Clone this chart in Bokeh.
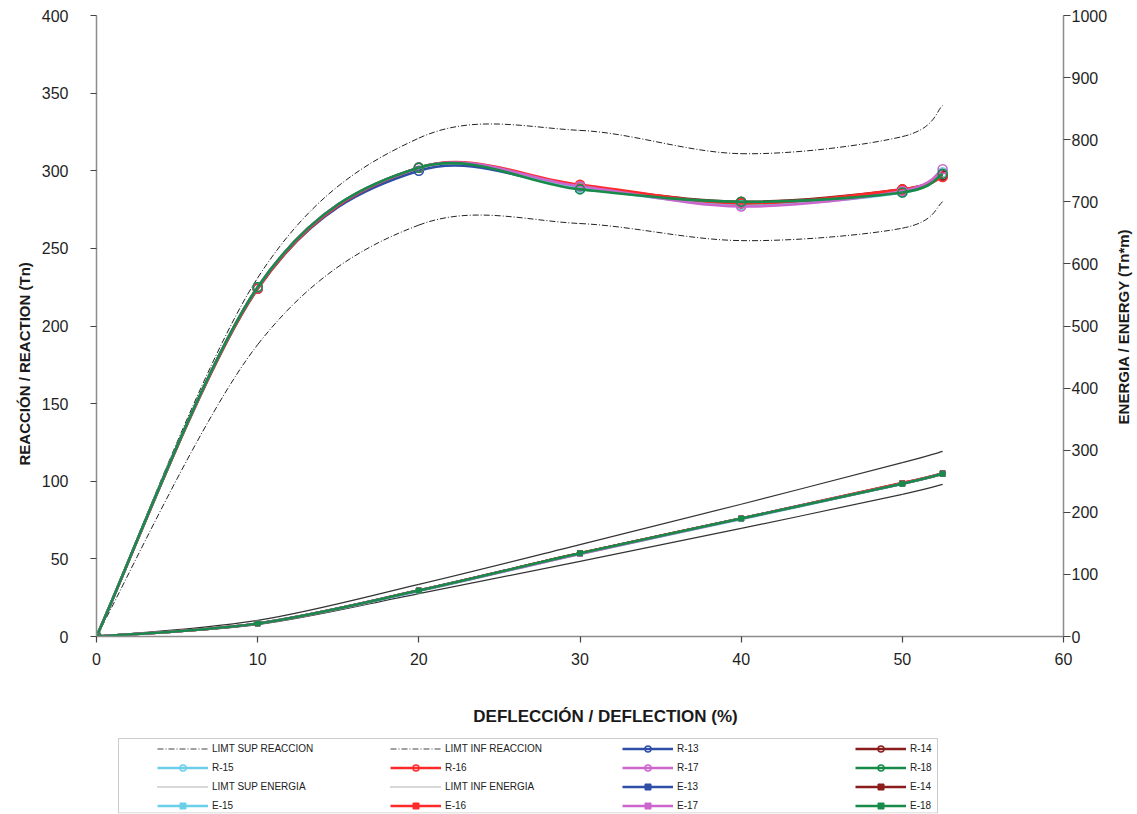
import math
from bokeh.plotting import figure
from bokeh.models import (Range1d, LinearAxis, Legend, LegendItem, Title, Label,
                          FixedTicker, ColumnDataSource, BoxAnnotation)
from bokeh.layouts import column, row
from bokeh.embed import file_html
from bokeh.resources import INLINE

# ---------------- data ----------------
deflection = [0, 10, 20, 30, 40, 50, 52.5]

lim_sup_reaccion = [0, 231, 321, 326, 311, 322, 342]
lim_inf_reaccion = [0, 188, 265, 266, 255, 263, 280]
r13 = [0, 224, 300, 289, 279, 287, 297]
r14 = [0, 225, 302, 290, 280, 288, 297]
r15 = [0, 225, 302, 289, 278, 286, 299]
r16 = [0, 224, 302, 291, 279, 288, 296]
r17 = [0, 225, 302, 290, 277, 287, 301]
r18 = [0, 225, 302, 288, 280, 286, 298]

lim_sup_energia = [0, 26, 84, 148, 213, 280, 298]
lim_inf_energia = [0, 19, 69, 121, 174, 229, 245]
e13 = [0, 21, 74, 134, 190, 246, 262]
e14 = [0, 21, 74, 134, 190, 247, 263]
e15 = [0, 21, 73, 133, 189, 246, 262]
e16 = [0, 21, 74, 134, 190, 247, 262]
e17 = [0, 21, 74, 133, 190, 246, 262]
e18 = [0, 21, 74, 134, 190, 246, 262]

series_names = ["13", "14", "15", "16", "17", "18"]
reaction_series = [r13, r14, r15, r16, r17, r18]
energy_series = [e13, e14, e15, e16, e17, e18]
colors = ["#2F4EA6", "#8B1C1C", "#6CCFEA", "#FF2A2A", "#CC66CC", "#188A4A"]

x_ticks = [0, 10, 20, 30, 40, 50, 60]
left_ticks = [0, 50, 100, 150, 200, 250, 300, 350, 400]
right_ticks = [0, 100, 200, 300, 400, 500, 600, 700, 800, 900, 1000]

x_title_text = "DEFLECCIÓN / DEFLECTION (%)"
left_title_text = "REACCIÓN / REACTION (Tn)"
right_title_text = "ENERGIA / ENERGY (Tn*m)"

FONT = "Liberation Sans"
LIM_R_DASH = "6 2 1 2"


def smooth_source(xs, ys):
    """Bezier control points for an Excel-like smoothed line through the points."""
    n = len(xs)
    d = {k: [] for k in ("x0", "y0", "x1", "y1", "cx0", "cy0", "cx1", "cy1")}
    for i in range(n - 1):
        xp, yp = (xs[i - 1], ys[i - 1]) if i > 0 else (xs[i], ys[i])
        xn, yn = (xs[i + 2], ys[i + 2]) if i + 2 < n else (xs[i + 1], ys[i + 1])
        d["x0"].append(xs[i]); d["y0"].append(ys[i])
        d["x1"].append(xs[i + 1]); d["y1"].append(ys[i + 1])
        d["cx0"].append(xs[i] + (xs[i + 1] - xp) / 6.0)
        d["cy0"].append(ys[i] + (ys[i + 1] - yp) / 6.0)
        d["cx1"].append(xs[i + 1] - (xn - xs[i]) / 6.0)
        d["cy1"].append(ys[i + 1] - (yn - ys[i]) / 6.0)
    return ColumnDataSource(d)


BZ = dict(x0="x0", y0="y0", x1="x1", y1="y1", cx0="cx0", cy0="cy0",
          cx1="cx1", cy1="cy1")

# ---------------- main figure ----------------
p = figure(width=1110, height=690,
           x_range=Range1d(0, 60), y_range=Range1d(0, 400),
           output_backend="svg", toolbar_location=None,
           min_border_left=96, min_border_right=46,
           min_border_top=15, min_border_bottom=54)
p.extra_y_ranges = {"energy": Range1d(0, 1000)}
p.grid.visible = False
p.outline_line_color = None

p.xaxis.ticker = FixedTicker(ticks=x_ticks)
p.yaxis.ticker = FixedTicker(ticks=left_ticks)

right_axis = LinearAxis(y_range_name="energy", ticker=FixedTicker(ticks=right_ticks))
p.add_layout(right_axis, "right")

for ax in [p.xaxis[0], p.yaxis[0], right_axis]:
    ax.axis_line_color = "#8C8C8C"
    ax.axis_line_width = 1.5
    ax.major_tick_line_color = "#444444"
    ax.major_tick_line_width = 1.2
    ax.major_tick_in = 0
    ax.major_tick_out = 6
    ax.minor_tick_line_color = None
    ax.major_label_text_font = FONT
    ax.major_label_text_font_size = "16px"
    ax.major_label_text_color = "#1F1F1F"

p.yaxis[0].major_label_standoff = 22
right_axis.major_tick_out = 7
right_axis.major_label_standoff = 1
p.xaxis[0].major_label_standoff = 10

# left title
p.add_layout(Title(text=left_title_text, align="left", offset=171,
                   standoff=12, text_font=FONT, text_font_style="bold",
                   text_font_size="15px", text_color="#1A1A1A"), "left")

# limit lines (reaction, left axis)
for ys in (lim_sup_reaccion, lim_inf_reaccion):
    p.bezier(source=smooth_source(deflection, ys), line_color="#222222",
             line_width=1, line_dash=LIM_R_DASH, **BZ)
# limit lines (energy, right axis)
for ys in (lim_sup_energia, lim_inf_energia):
    p.bezier(source=smooth_source(deflection, ys), line_color="#333333",
             line_width=1.2, y_range_name="energy", **BZ)

# reaction series
for ys, c in zip(reaction_series, colors):
    p.bezier(source=smooth_source(deflection, ys), line_color=c,
             line_width=2.6, **BZ)
    p.scatter(deflection, ys, marker="circle", size=9, line_color=c,
              line_width=1.6, fill_alpha=0)

# energy series
for ys, c in zip(energy_series, colors):
    p.bezier(source=smooth_source(deflection, ys), line_color=c,
             line_width=2.6, y_range_name="energy", **BZ)
    p.scatter(deflection, ys, marker="square", size=5, line_color=c,
              fill_color=c, y_range_name="energy")

# ---------------- right strip: energy axis title (pixel coordinates) ----------------
tf = figure(width=27, height=690, x_range=Range1d(0, 27), y_range=Range1d(0, 621),
            output_backend="svg", toolbar_location=None,
            x_axis_location=None, y_axis_location=None,
            min_border_left=0, min_border_right=0,
            min_border_top=15, min_border_bottom=54)
tf.grid.visible = False
tf.outline_line_color = None
tf.add_layout(Label(x=13, y=310, text=right_title_text, angle=math.pi / 2,
                    text_align="center", text_baseline="middle",
                    text_font=FONT, text_font_style="bold",
                    text_font_size="15px", text_color="#1A1A1A"))

# ---------------- lower panel: x title + legend (pixel coordinates) ----------------
lf = figure(width=1137, height=124, x_range=Range1d(0, 968), y_range=Range1d(0, 123),
            output_backend="svg", toolbar_location=None,
            x_axis_location=None, y_axis_location=None,
            min_border_left=96, min_border_right=73,
            min_border_top=0, min_border_bottom=1)
lf.grid.visible = False
lf.outline_line_color = None

lf.add_layout(Label(x=509, y=97, text=x_title_text, text_align="center",
                    text_baseline="middle", text_font=FONT,
                    text_font_style="bold", text_font_size="17px",
                    text_color="#1A1A1A"))

lf.add_layout(BoxAnnotation(left=22, right=841, bottom=0.5, top=75,
                            fill_alpha=0, line_color="#555555", line_width=1))

NAN = float("nan")


def leg_item(label, color, dash="solid", width=2.6, marker=None):
    rs = [lf.line([NAN], [NAN], line_color=color, line_width=width, line_dash=dash)]
    if marker == "circle":
        rs.append(lf.scatter([NAN], [NAN], marker="circle", size=8, line_color=color,
                             line_width=1.5, fill_alpha=0))
    elif marker == "square":
        rs.append(lf.scatter([NAN], [NAN], marker="square", size=3, line_color=color,
                             fill_color=color))
    return LegendItem(label=label, renderers=rs)


items = {}
items["LIMT SUP REACCION"] = leg_item("LIMT SUP REACCION", "#444444", LIM_R_DASH, 1)
items["LIMT INF REACCION"] = leg_item("LIMT INF REACCION", "#444444", LIM_R_DASH, 1)
items["LIMT SUP ENERGIA"] = leg_item("LIMT SUP ENERGIA", "#666666", "1 1", 1.2)
items["LIMT INF ENERGIA"] = leg_item("LIMT INF ENERGIA", "#666666", "1 1", 1.2)
for n, c in zip(series_names, colors):
    items["R-" + n] = leg_item("R-" + n, c, "solid", 2.6, "circle")
    items["E-" + n] = leg_item("E-" + n, c, "solid", 2.6, "square")

columns_def = [
    (61, ["LIMT SUP REACCION", "R-15", "LIMT SUP ENERGIA", "E-15"]),
    (294, ["LIMT INF REACCION", "R-16", "LIMT INF ENERGIA", "E-16"]),
    (526, ["R-13", "R-17", "E-13", "E-17"]),
    (759, ["R-14", "R-18", "E-14", "E-18"]),
]
for xpos, names in columns_def:
    lg = Legend(items=[items[nm] for nm in names], location=(xpos, 0),
                orientation="vertical", padding=0, margin=0, spacing=4,
                glyph_width=51, glyph_height=15, label_standoff=4,
                label_text_font=FONT, label_text_font_size="10px",
                label_text_color="#222222", border_line_color=None,
                background_fill_alpha=0)
    lf.add_layout(lg, "center")

layout = column(row(p, tf), lf)
open("out.html", "w").write(file_html(layout, INLINE))
